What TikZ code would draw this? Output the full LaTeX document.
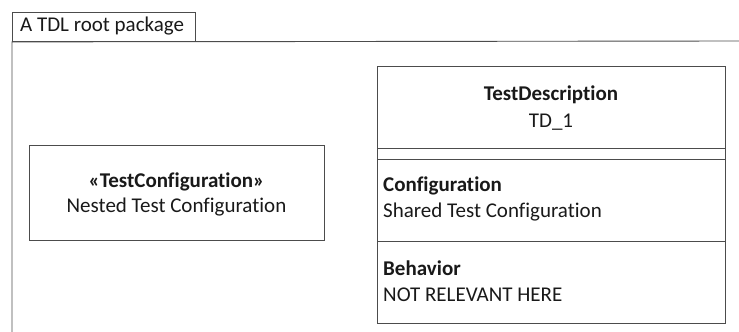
\documentclass[tikz,border=0pt]{standalone}
\usepackage{fontspec}
\setmainfont[Ligatures={NoCommon}]{Carlito}
\begin{document}
\begin{tikzpicture}[x=1pt,y=-1pt,
  frame/.style={draw=black!70,line width=0.9pt},
  txt/.style={inner sep=0pt,text=black!90,font=\fontsize{21}{24}\selectfont},
  btxt/.style={txt,font=\fontsize{21}{24}\selectfont\bfseries}]
\useasboundingbox (0,0) rectangle (739,332);
% package tab and frame
\node[frame,anchor=north west,minimum width=183pt,minimum height=29pt,inner sep=0pt] (tab) at (12,12) {};
\node[txt,anchor=west] (tabt) at (20,26.5) {A TDL root package};
\coordinate (fr) at (739,41);
\coordinate (fb) at (12,332);
\draw[frame] (fb) -- (tab.south west) -- (fr);
% left box
\node[frame,anchor=north west,minimum width=295pt,minimum height=95pt,inner sep=0pt] (tc) at (29,145) {};
\node[btxt] (tcs) at (176.5,182) {«TestConfiguration»};
\node[txt] (tcn) at (176.5,207) {Nested Test Configuration};
% right box
\node[frame,anchor=north west,minimum width=348pt,minimum height=257pt,inner sep=0pt] (td) at (377,66) {};
\coordinate (l1a) at (377,148); \coordinate (l1b) at (725,148);
\coordinate (l2a) at (377,159); \coordinate (l2b) at (725,159);
\coordinate (l3a) at (377,241); \coordinate (l3b) at (725,241);
\draw[frame] (l1a) -- (l1b);
\draw[frame] (l2a) -- (l2b);
\draw[frame] (l3a) -- (l3b);
\node[btxt] (tdn) at (551,95) {TestDescription};
\node[txt] (tdi) at (551,122) {TD\_1};
\node[btxt,anchor=west] (cfg) at (383,186) {Configuration};
\node[txt,anchor=west] (cfgv) at (383,212) {Shared Test Configuration};
\node[btxt,anchor=west] (beh) at (383,268) {Behavior};
\node[txt,anchor=west] (behv) at (383,295) {NOT RELEVANT HERE};
\end{tikzpicture}
\end{document}
